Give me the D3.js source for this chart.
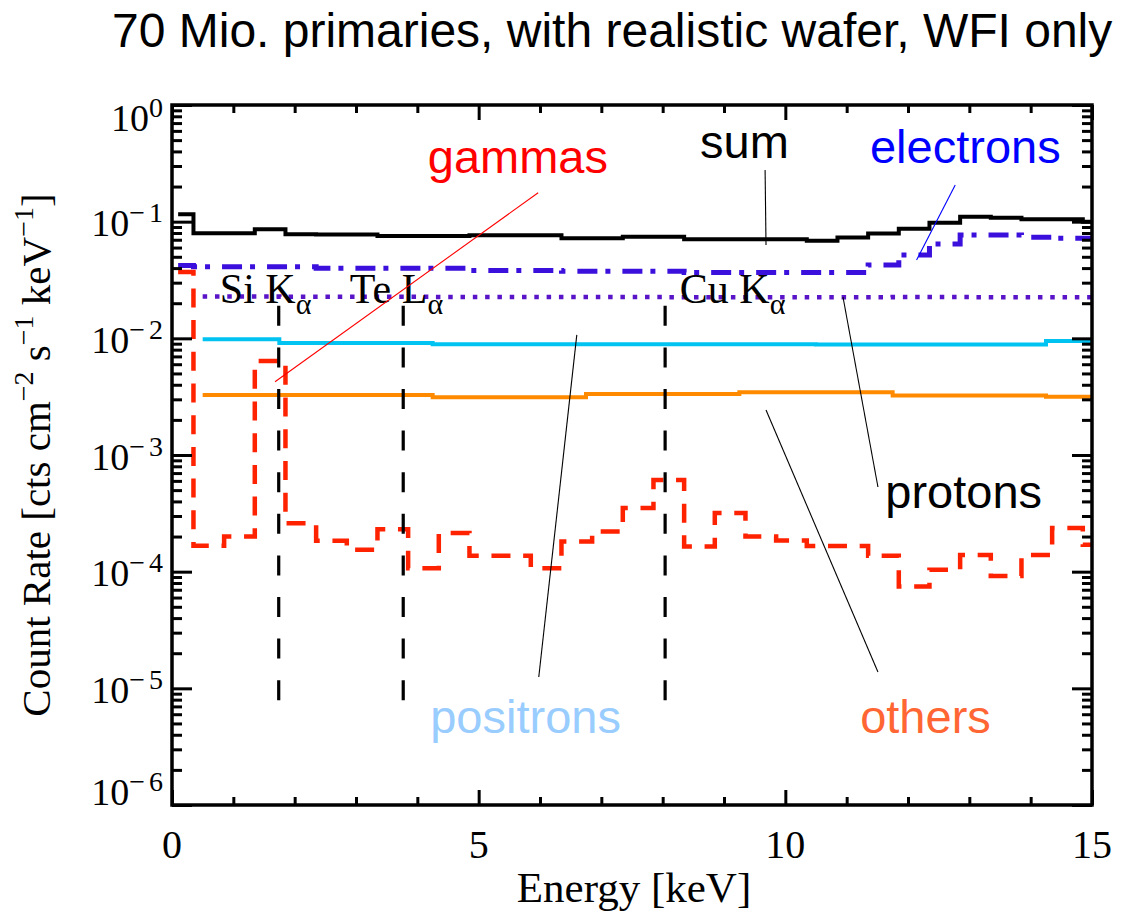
<!DOCTYPE html>
<html><head><meta charset="utf-8">
<script src="https://cdn.jsdelivr.net/npm/d3@7"></script>
<style>body{margin:0;background:#fff}</style>
</head><body>
<svg id="c" width="1130" height="917"></svg>
<script>
// ---------- data ----------
// fine binning (0.5 keV) used by sum, electrons, gammas
const fineEdges = [0.1, 0.35, 0.85, 1.35, 1.85, 2.35, 2.85, 3.35, 3.85, 4.35, 4.85, 5.35, 5.85, 6.35, 6.85, 7.35, 7.85, 8.35, 8.85, 9.35, 9.85, 10.35, 10.85, 11.35, 11.85, 12.35, 12.85, 13.35, 13.85, 14.35, 14.85, 15.0];
const sumRate = [0.116, 0.0796, 0.0796, 0.086, 0.078, 0.0775, 0.0775, 0.0755, 0.0755, 0.0755, 0.0765, 0.0765, 0.0765, 0.0721, 0.0721, 0.0743, 0.0743, 0.0708, 0.0706, 0.0706, 0.0706, 0.0687, 0.0730, 0.0790, 0.0870, 0.0980, 0.110, 0.108, 0.105, 0.105, 0.100];
const electronRate = [0.042, 0.0411, 0.0411, 0.0411, 0.0411, 0.0398, 0.0398, 0.0398, 0.0398, 0.0398, 0.0382, 0.0382, 0.0382, 0.0375, 0.0375, 0.0375, 0.0375, 0.0366, 0.0366, 0.0366, 0.0366, 0.0366, 0.0366, 0.0426, 0.0519, 0.0644, 0.0769, 0.0769, 0.0735, 0.0721, 0.0721];
const gammaRate = [3.7e-2, 1.67e-4, 2.0e-4, 6.4e-3, 2.6e-4, 1.84e-4, 1.54e-4, 2.31e-4, 1.07e-4, 2.14e-4, 1.37e-4, 1.37e-4, 1.07e-4, 1.81e-4, 2.21e-4, 3.52e-4, 6.1e-4, 1.64e-4, 3.19e-4, 2.0e-4, 1.85e-4, 1.66e-4, 1.66e-4, 1.37e-4, 7.45e-5, 1.04e-4, 1.39e-4, 9.2e-5, 1.39e-4, 2.37e-4, 1.7e-4];
// coarse binning (1.25 keV) used by protons, positrons, others
const coarseEdges = [0.5, 1.75, 3.0, 4.25, 5.5, 6.75, 8.0, 9.25, 10.5, 11.75, 13.0, 14.25, 15.0];
const protonRate = [0.0228, 0.0227, 0.0227, 0.0226, 0.0226, 0.0226, 0.0225, 0.0225, 0.0225, 0.0226, 0.0225, 0.0225];
const positronRate = [9.8e-3, 9.1e-3, 9.1e-3, 8.9e-3, 8.9e-3, 8.9e-3, 8.9e-3, 8.9e-3, 8.85e-3, 8.85e-3, 8.85e-3, 9.5e-3];
const otherRate = [3.27e-3, 3.27e-3, 3.27e-3, 3.12e-3, 3.12e-3, 3.34e-3, 3.34e-3, 3.45e-3, 3.45e-3, 3.23e-3, 3.23e-3, 3.16e-3];
// fluorescence lines
const lineLabels = ["Si K", "Te L", "Cu K"];
const lineEnergies = [1.74, 3.77, 8.04];
// axis ticks
const xMajorTicks = [0, 5, 10, 15];
const xTickLabels = ["0", "5", "10", "15"];
const yDecades = [0, -1, -2, -3, -4, -5, -6];

// ---------- layout ----------
const svg = d3.select("#c");
const L = 172, R = 1092, T = 105, B = 805;
const x = d3.scaleLinear([0, 15], [L, R]);
const y = d3.scaleLog([1e-6, 1], [B, T]);
const SERIF = "Liberation Serif, Times New Roman, serif";
const SANS = "Liberation Sans, Arial, Helvetica, sans-serif";

function stepPoints(edges, vals) {
  return edges.map((e, i) => [e, vals[Math.min(i, vals.length - 1)]]);
}
const stepLine = d3.line().x(d => x(d[0])).y(d => y(d[1])).curve(d3.curveStepAfter);

// ---------- series ----------
const series = [
  {edges: coarseEdges, vals: positronRate, color: "#00c3f2", w: 4, dash: null},
  {edges: coarseEdges, vals: otherRate, color: "#ff8a00", w: 4, dash: null},
  {edges: coarseEdges, vals: protonRate, color: "#5a14c8", w: 4.5, dash: "4.5,7.8"},
  {edges: fineEdges, vals: electronRate, color: "#3c10dc", w: 5, dash: "20,8,5,12"},
  {edges: fineEdges, vals: sumRate, color: "#000", w: 4, dash: null},
  {edges: fineEdges, vals: gammaRate, color: "#ff2200", w: 4.5, dash: "19,12.7"}
];
const gS = svg.append("g");
series.forEach(s => {
  gS.append("path").attr("d", stepLine(stepPoints(s.edges, s.vals)))
    .attr("fill", "none").attr("stroke", s.color).attr("stroke-width", s.w)
    .attr("stroke-dasharray", s.dash);
});

// fluorescence line markers
const markTop = 0.019, markBot = 7.9e-6;
lineEnergies.forEach(E => {
  gS.append("line").attr("x1", x(E)).attr("x2", x(E)).attr("y1", y(markTop)).attr("y2", y(markBot))
    .attr("stroke", "#000").attr("stroke-width", 3.2).attr("stroke-dasharray", "20,21.6");
});
const lineLabelPos = [[0.78, 0.0201], [2.90, 0.0201], [8.28, 0.0201]];
lineLabels.forEach((t, i) => {
  const tx = svg.append("text").attr("x", x(lineLabelPos[i][0])).attr("y", y(lineLabelPos[i][1]))
    .attr("font-family", SERIF).attr("font-size", 42).attr("fill", "#000");
  tx.append("tspan").text(t);
  tx.append("tspan").attr("font-size", 30).attr("dy", 11).text("α");
});

// ---------- axes ----------
const gA = svg.append("g");
const minorX = d3.range(1, 15).filter(v => v % 5 !== 0);
const minorY = [];
yDecades.slice(0, -1).forEach(d => { for (let k = 2; k <= 9; k++) minorY.push(k * Math.pow(10, d - 1)); });
const majorY = yDecades.map(d => Math.pow(10, d));
function styleAxis(g) {
  g.select(".domain").remove();
  g.selectAll(".tick line").attr("stroke", "#000").attr("stroke-width", 3);
  g.selectAll(".tick text").remove();
}
gA.append("g").attr("transform", `translate(0,${B})`).call(d3.axisBottom(x).tickValues(xMajorTicks).tickSize(-15).tickSizeOuter(0)).call(styleAxis);
gA.append("g").attr("transform", `translate(0,${B})`).call(d3.axisBottom(x).tickValues(minorX).tickSize(-8).tickSizeOuter(0)).call(styleAxis);
gA.append("g").attr("transform", `translate(0,${T})`).call(d3.axisTop(x).tickValues(xMajorTicks).tickSize(-15).tickSizeOuter(0)).call(styleAxis);
gA.append("g").attr("transform", `translate(0,${T})`).call(d3.axisTop(x).tickValues(minorX).tickSize(-8).tickSizeOuter(0)).call(styleAxis);
gA.append("g").attr("transform", `translate(${L},0)`).call(d3.axisLeft(y).tickValues(majorY).tickSize(-20).tickSizeOuter(0)).call(styleAxis);
gA.append("g").attr("transform", `translate(${L},0)`).call(d3.axisLeft(y).tickValues(minorY).tickSize(-10).tickSizeOuter(0)).call(styleAxis);
gA.append("g").attr("transform", `translate(${R},0)`).call(d3.axisRight(y).tickValues(majorY).tickSize(-20).tickSizeOuter(0)).call(styleAxis);
gA.append("g").attr("transform", `translate(${R},0)`).call(d3.axisRight(y).tickValues(minorY).tickSize(-10).tickSizeOuter(0)).call(styleAxis);
gA.append("rect").attr("x", L).attr("y", T).attr("width", R - L).attr("height", B - T)
  .attr("fill", "none").attr("stroke", "#000").attr("stroke-width", 3.5);

// tick labels
xMajorTicks.forEach((v, i) => {
  svg.append("text").attr("x", x(v)).attr("y", 858)
    .attr("text-anchor", "middle").attr("font-family", SERIF).attr("font-size", 40).text(xTickLabels[i]);
});
yDecades.forEach(d => {
  const off = d === 0 ? 26 : (d === -6 ? 0 : 14.5);
  const t = svg.append("text").attr("x", 163).attr("y", y(Math.pow(10, d)) + off)
    .attr("text-anchor", "end").attr("font-family", SERIF).attr("font-size", 38);
  t.append("tspan").text("10");
  if (d === 0) {
    t.append("tspan").attr("font-size", 28).attr("dy", -14).text("0");
  } else {
    t.append("tspan").attr("font-size", 28).attr("dy", -14).text("−");
    t.append("tspan").attr("font-size", 28).attr("dx", 4).text(String(-d));
  }
});

// axis titles
svg.append("text").attr("x", (L + R) / 2 + 2).attr("y", 902)
  .attr("text-anchor", "middle").attr("font-family", SERIF).attr("font-size", 43).text("Energy [keV]");
const yt = svg.append("text").attr("transform", `translate(50,${(T + B) / 2}) rotate(-90)`)
  .attr("text-anchor", "middle").attr("font-family", SERIF).attr("font-size", 41);
yt.append("tspan").text("Count Rate [cts cm");
yt.append("tspan").attr("font-size", 28).attr("dy", -17).text("−2");
yt.append("tspan").attr("dy", 17).text(" s");
yt.append("tspan").attr("font-size", 28).attr("dy", -17).text("−1");
yt.append("tspan").attr("dy", 17).text(" keV");
yt.append("tspan").attr("font-size", 28).attr("dy", -17).text("−1");
yt.append("tspan").attr("dy", 17).text("]");

// title
svg.append("text").attr("x", 112).attr("y", 47).attr("font-family", SANS).attr("font-size", 48)
  .attr("fill", "#000").text("70 Mio. primaries, with realistic wafer, WFI only");

// ---------- annotations (positions in data units) ----------
const labels = [
  {t: "gammas", E: 4.17, v: 0.261, c: "#ff0000"},
  {t: "sum", E: 8.61, v: 0.351, c: "#000"},
  {t: "electrons", E: 11.38, v: 0.318, c: "#0000ff"},
  {t: "protons", E: 11.63, v: 3.51e-4, c: "#000"},
  {t: "positrons", E: 4.21, v: 4.14e-6, c: "#99ccff"},
  {t: "others", E: 11.22, v: 4.14e-6, c: "#ff6633"}
];
const pointers = [
  {a: [5.97, 0.177], b: [1.68, 4.25e-3], c: "#ff0000"},
  {a: [9.67, 0.277], b: [9.685, 0.0631], c: "#000"},
  {a: [12.77, 0.206], b: [12.14, 0.0469], c: "#0000ff"},
  {a: [10.94, 0.0226], b: [11.51, 5.32e-4], c: "#000"},
  {a: [6.60, 0.0107], b: [5.98, 1.25e-5], c: "#000"},
  {a: [9.685, 2.43e-3], b: [11.51, 1.38e-5], c: "#000"}
];
pointers.forEach(p => {
  svg.append("line").attr("x1", x(p.a[0])).attr("y1", y(p.a[1])).attr("x2", x(p.b[0])).attr("y2", y(p.b[1]))
    .attr("stroke", p.c).attr("stroke-width", 1.1);
});
labels.forEach(l => {
  svg.append("text").attr("x", x(l.E)).attr("y", y(l.v)).attr("font-family", SANS).attr("font-size", 47)
    .attr("fill", l.c).text(l.t);
});
</script>
</body></html>
